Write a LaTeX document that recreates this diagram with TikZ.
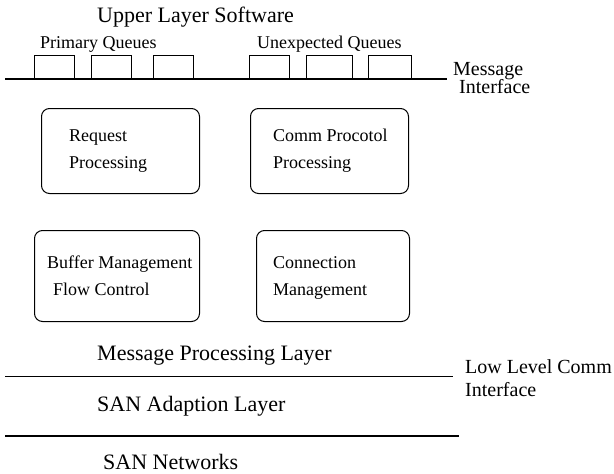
\documentclass[tikz,border=0pt]{standalone}
\usepackage{fontspec}
\setmainfont{Liberation Serif}
\begin{document}
\begin{tikzpicture}[x=1pt,y=-1pt,
  biglabel/.style={font=\fontsize{22}{26}\selectfont, inner sep=0pt, anchor=base west},
  sidelabel/.style={font=\fontsize{20}{24}\selectfont, inner sep=0pt, anchor=base west},
  smalllabel/.style={font=\fontsize{18}{22}\selectfont, inner sep=0pt, anchor=base west},
  queue/.style={draw, line width=1pt, minimum height=23pt, inner sep=0pt, anchor=south west},
  module/.style={draw, line width=1pt, rounded corners=8pt, inner sep=0pt, anchor=north west},
  boundary/.style={line width=2pt},
  thinboundary/.style={line width=1pt},
]
\useasboundingbox (0,0) rectangle (614,474);

% upper layer and queue labels
\node[biglabel] (upper) at (97,22) {Upper Layer Software};
\node[smalllabel] (primary) at (40,48) {Primary Queues};
\node[smalllabel] (unexpected) at (257,48) {Unexpected Queues};

% message interface line with the queues sitting on it
\coordinate (mi-l) at (5,79);
\coordinate (mi-r) at (447,79);
\draw[boundary] (mi-l) -- (mi-r);
\node[queue, minimum width=40pt] (pq1) at (34,79) {};
\node[queue, minimum width=40pt] (pq2) at (91,79) {};
\node[queue, minimum width=40pt] (pq3) at (153,79) {};
\node[queue, minimum width=40pt] (uq1) at (249,79) {};
\node[queue, minimum width=46pt] (uq2) at (306,79) {};
\node[queue, minimum width=43pt] (uq3) at (368,79) {};
\node[sidelabel] (mi1) at (453,75) {Message};
\node[sidelabel] (mi2) at (459,93) {Interface};

% processing modules
\node[module, minimum width=158pt, minimum height=85pt] (req) at (41,108) {};
\node[smalllabel] at (69,141) {Request};
\node[smalllabel] at (69,168) {Processing};

\node[module, minimum width=158pt, minimum height=85pt] (comm) at (250,108) {};
\node[smalllabel] at (273,141) {Comm Procotol};
\node[smalllabel] at (273,168) {Processing};

\node[module, minimum width=165pt, minimum height=91pt] (buf) at (34,230) {};
\node[smalllabel] at (47,268) {Buffer Management};
\node[smalllabel] at (53,295) {Flow Control};

\node[module, minimum width=153pt, minimum height=91pt] (conn) at (256,230) {};
\node[smalllabel] at (273,268) {Connection};
\node[smalllabel] at (273,295) {Management};

% lower layers
\node[biglabel] (mpl) at (97,360) {Message Processing Layer};
\coordinate (ll-l) at (5,376);
\coordinate (ll-r) at (453,376);
\draw[thinboundary] (ll-l) -- (ll-r);
\node[sidelabel] (llc1) at (465,373) {Low Level Comm};
\node[sidelabel] (llc2) at (465,396) {Interface};
\node[biglabel] (san) at (97,411) {SAN Adaption Layer};
\coordinate (sn-l) at (5,436);
\coordinate (sn-r) at (459,436);
\draw[boundary] (sn-l) -- (sn-r);
\node[biglabel] (net) at (103,469) {SAN Networks};
\end{tikzpicture}
\end{document}
